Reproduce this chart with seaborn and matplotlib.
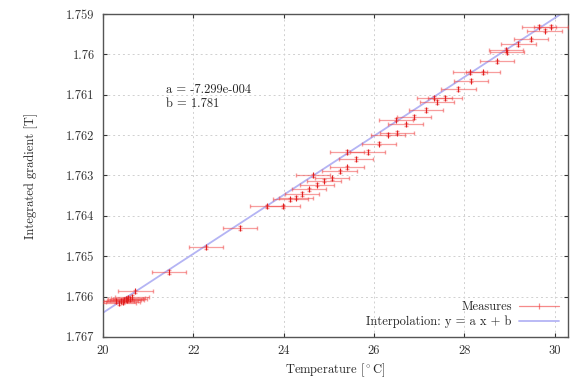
import numpy as np
import pandas as pd
import matplotlib
matplotlib.use('Agg')
import matplotlib.pyplot as plt
from matplotlib.lines import Line2D
import seaborn as sns

## measured points (temperature in C, integrated gradient in T)
temperature = [20.30, 20.36, 20.40, 20.44, 20.47, 20.50, 20.53, 20.56, 20.60, 20.64,
               20.72, 21.47, 22.28, 23.03, 23.64, 23.99, 24.15, 24.28, 24.41, 24.56,
               24.74, 24.89, 25.07, 24.65, 25.24, 25.41, 25.60, 25.40, 25.86, 26.11,
               26.31, 26.51, 26.49, 26.70, 26.89, 27.16, 27.34, 27.39, 27.58, 27.87,
               28.15, 28.13, 28.41, 28.73, 28.92, 28.94, 29.20, 29.48, 29.66, 29.78,
               29.92]
gradient = [1.76612, 1.76616, 1.76610, 1.76614, 1.76608, 1.76605, 1.76609, 1.76603, 1.76606, 1.76601,
            1.76587, 1.76539, 1.76478, 1.76430, 1.76376, 1.76376, 1.76359, 1.76355, 1.76346, 1.76334,
            1.76323, 1.76313, 1.76307, 1.76300, 1.76290, 1.76280, 1.76259, 1.76242, 1.76242, 1.76221,
            1.76199, 1.76194, 1.76162, 1.76173, 1.76155, 1.76138, 1.76107, 1.76118, 1.76108, 1.76086,
            1.76065, 1.76044, 1.76044, 1.76017, 1.75989, 1.75994, 1.75974, 1.75963, 1.75931, 1.75941,
            1.75931]
temp_err = 0.38
grad_err = 0.00004

## fit y = a x + b
fit_a = -7.299e-4
fit_b = 1.781
fit_x = [20.0, 30.3]

x_ticks = [20, 22, 24, 26, 28, 30]
y_ticks = [1.759, 1.760, 1.761, 1.762, 1.763, 1.764, 1.765, 1.766, 1.767]
y_ticklabels = ['1.759', '1.76', '1.761', '1.762', '1.763', '1.764', '1.765', '1.766', '1.767']

sns.set_style('ticks')
plt.rcParams['font.family'] = ['cmr10', 'DejaVu Serif']
plt.rcParams['mathtext.fontset'] = 'cm'
plt.rcParams['axes.formatter.use_mathtext'] = True

meas_color = '#f03c3c'
line_color = '#b4b4f4'

df = pd.DataFrame({'T': temperature, 'G': gradient})
fit = pd.DataFrame({'T': fit_x, 'G': [fit_a * t + fit_b for t in fit_x]})

fig = plt.figure(figsize=(5.75, 3.79), dpi=100)
ax = fig.add_axes([0.179, 0.111, 0.809, 0.852])

ax.errorbar(df['T'], df['G'], xerr=temp_err, yerr=grad_err, fmt='none',
            ecolor=meas_color, alpha=0.5, elinewidth=0.9, capsize=1.5, zorder=3)
sns.scatterplot(data=df, x='T', y='G', ax=ax, marker='|', s=14, color='#e02020',
                linewidth=0.8, legend=False, zorder=4)
sns.lineplot(data=fit, x='T', y='G', ax=ax, color=line_color, linewidth=1.3,
             legend=False, zorder=2)

ax.set_xlim(20, 30.3)
ax.set_ylim(1.767, 1.759)
ax.set_xticks(x_ticks)
ax.set_xticklabels([str(t) for t in x_ticks])
ax.set_yticks(y_ticks)
ax.set_yticklabels(y_ticklabels)
ax.tick_params(direction='in', top=True, right=True, length=3, labelsize=9, pad=6, colors='#333333')
ax.grid(True, linestyle=(0, (2, 3)), color='#d0d0d0', linewidth=0.7)
for sp in ax.spines.values():
    sp.set_color('#555555')
    sp.set_linewidth(1.0)

ax.set_xlabel(r'Temperature [$^\circ$C]', fontsize=9, labelpad=3)
ax.set_ylabel('Integrated gradient [T]', fontsize=9, labelpad=20)

ax.text(21.4, 1.76088, 'a = -7.299e-004', fontsize=9, va='center', ha='left')
ax.text(21.4, 1.76123, 'b = 1.781', fontsize=9, va='center', ha='left')

## legend proxies: gnuplot-style key
h_meas = Line2D([], [], color=meas_color, alpha=0.6, linewidth=0.9,
                marker='|', markersize=4, markeredgewidth=0.9)
h_fit = Line2D([], [], color=line_color, linewidth=1.3)
leg = ax.legend([h_meas, h_fit], ['Measures', 'Interpolation: y = a x + b'],
                loc='lower right', frameon=False, markerfirst=False, fontsize=9,
                handlelength=3.2, borderaxespad=0.3, labelspacing=0.2, handletextpad=0.6)
try:
    leg._legend_box._children[-1]._children[0].align = 'right'
except Exception:
    pass

plt.savefig('out.png', dpi=100)
